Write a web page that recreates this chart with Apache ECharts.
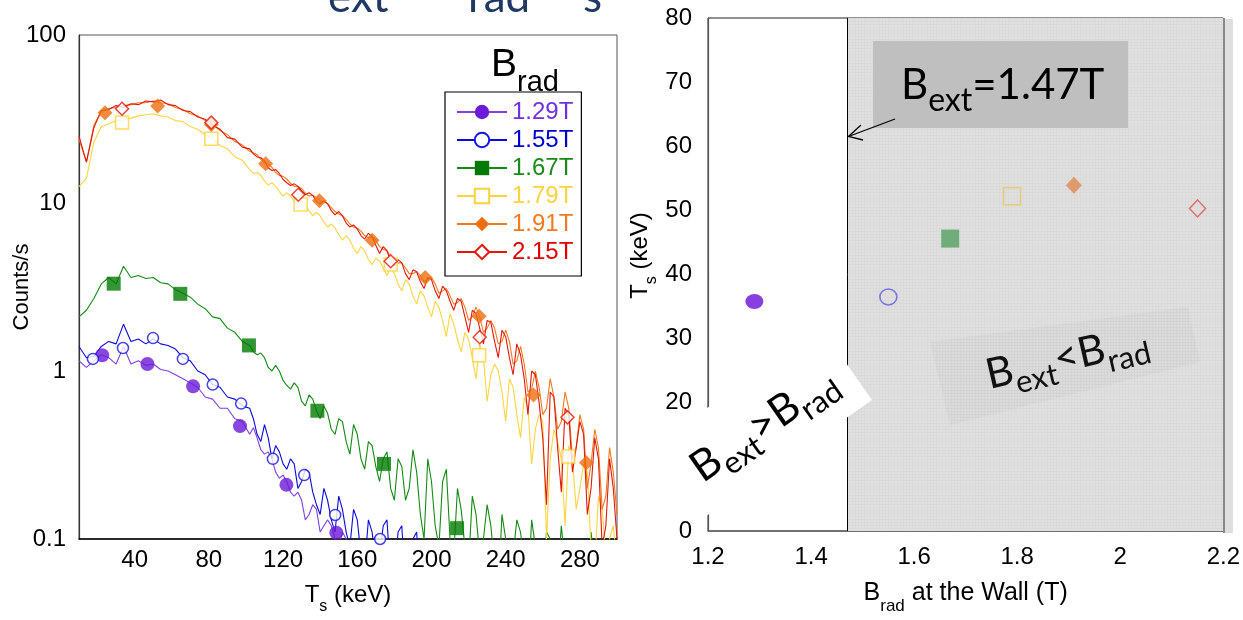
<!DOCTYPE html>
<html>
<head>
<meta charset="utf-8">
<script src="https://cdn.jsdelivr.net/npm/echarts@6/dist/echarts.min.js"></script>
<style>
  html, body { margin: 0; padding: 0; background: #fff; }
  #c { width: 1243px; height: 620px; }
</style>
</head>
<body>
<div id="c"></div>
<script>
// ---- spectra: photon energy grid (keV) ----
const energy = [10,14,18,22,26,30,34,38,42,46,50,54,58,62,66,70,74,78,82,86,90,94,98,102,106,110,114,118,122,126,130,134,138,142,146,150,154,158,162,166,170,174,178,182,186,190,194,198,202,206,210,214,218,222,226,230,234,238,242,246,250,254,258,262,266,270,274,278,282,286,290,294,298];
// extra channels read in the falling part of the spectra
const energyFine = [104,108,112,116,120,124,128,132,136,140,144,148,152,156,160,164,168,172,176,180,184,188,192,196,200,204,208,212,216,220,224,228,232,236,240,244,248,252,256,260,264,268,272,276,280,284,288,292,296,300];

// count rates (counts/s) for each radial field
const counts129 = [1.15,1.05,1.15,1.25,1.2,1.1,1.4,1.1,1.15,1.08, 1.1,1.02,1.0,0.95,0.9,0.85,0.8,0.7,0.68,0.6, 0.6,0.52,0.5,0.42,0.4,0.32,0.3,0.23,0.22,0.18, 0.17,0.14,0.15,0.12,0.12,0.09,0.1,0.07,0.08,0.06];
const counts155 = [1.4,1.2,1.22,1.4,1.5,1.45,1.9,1.5,1.55,1.45, 1.55,1.45,1.42,1.35,1.2,1.15,1.0,0.95,0.83,0.8, 0.7,0.68,0.62,0.6,0.42,0.48,0.3,0.33,0.26,0.28, 0.22,0.25,0.16,0.2,0.13,0.18,0.11,0.15,0.08,0.13, 0.07,0.12,0.06,0.11,0.05,0.1,0.05,0.09,0.05,0.08, 0.05];
const counts167 = [2.1,2.3,2.7,3.3,3.6,3.3,4.2,3.6,3.7,3.55, 3.6,3.35,3.3,3.05,2.9,2.75,2.5,2.35,2.1,2.05, 1.8,1.7,1.5,1.42,1.25,1.2,1.0,1.0,0.82,0.85, 0.66,0.72,0.58,0.62,0.45,0.52,0.38,0.48,0.3,0.38, 0.27,0.3,0.2,0.3,0.17,0.34,0.14,0.3,0.12,0.22, 0.1,0.2,0.09,0.18,0.08,0.16,0.07,0.14,0.06,0.13, 0.07,0.13,0.06,0.11,0.05,0.12,0.06,0.1,0.05,0.11, 0.05,0.08,0.05];
const counts179 = [12.5,14,23,28.5,29.5,31,31,32,33,33.5, 34,33,32.5,31,30.5,28.5,27.5,25.5,24.2,22, 21,18.8,18,15.8,15.2,13.5,13.2,11.7,11.5,10.2, 10.2,9,8.8,7.7,7.5,6.5,6.4,5.4,5.5,4.6, 4.7,4.1,4.1,3.3,3.5,2.8,3.0,2.4,2.6,2.0, 2.2,1.55,1.7,1.2,1.45,0.66,1.1,0.75,0.9,0.55, 0.7,0.28,0.55,0.1,0.45,0.3,0.36,0.15,0.28,0.09, 0.18,0.08,0.12];
const counts191 = [24,17.5,29,35,36.5,37,38,38.5,39.5,39.5, 40.5,39.5,39,37,36,34,33,31,29.5,27, 25.5,23.2,22.2,20.3,19.4,17.4,16.3,14.6,13.9,12.6, 12.2,11,10.8,10.2,9.4,8.6,8.0,7.2,6.8,6.2, 6.0,5.3,4.8,4.4,4.1,3.8,3.7,3.5,3.3,3.0, 2.8,2.55,2.4,2.1,2.1,1.8,1.8,1.5,1.5,1.15, 1.1,0.78,0.8,0.6,0.7,0.5,0.6,0.35,0.45,0.28, 0.35,0.18,0.25];
const counts215 = [25,17.5,28,35.5,36,38,37,39,38.5,40.5, 40,41,38.5,38,35.5,35,32.5,31.5,29,27.5, 24.5,24,21.5,21,18.8,17.8,15.6,15,13.2,13, 11.8,11.5,10.2,10.3,9,8.9,7.6,7.4,6.4,6.6, 5.6,5.5,4.5,4.6,3.8,4.0,3.4,3.6,3.0,3.2, 2.6,2.7,2.1,2.3,1.8,2.0,1.5,1.75,1.2,1.45, 0.9,1.0,0.65,0.16,0.7,0.19,0.55,0.35,0.42,0.2, 0.3,0.12,0.2];

// count rates on the extra channels (same order as energyFine, truncated where the trace leaves the plot)
const fine129 = [0.46,0.34,0.33,0.25,0.24,0.19,0.19,0.13,0.16,0.11, 0.13,0.1,0.11,0.08,0.09,0.06];
const fine155 = [0.52,0.38,0.4,0.36,0.28,0.3,0.2,0.26,0.19,0.14, 0.17,0.11,0.15,0.09,0.13,0.07,0.11,0.08,0.13,0.06, 0.12,0.06,0.11,0.05,0.08,0.05,0.06];
const fine167 = [1.3,1.28,1.05,1.08,0.88,0.78,0.8,0.62,0.68,0.52, 0.56,0.42,0.5,0.32,0.42,0.26,0.36,0.22,0.33,0.17, 0.27,0.2,0.25,0.1,0.22,0.09,0.26,0.08,0.15,0.07, 0.14,0.1,0.12,0.05,0.1,0.08,0.11,0.05,0.09,0.05, 0.1,0.06,0.07,0.05,0.08,0.06,0.07,0.05,0.09,0.05];
const fine179 = [15.0,14.6,12.8,12.6,11.0,11.0,9.7,9.8,8.4,8.4, 7.2,7.1,6.0,6.0,5.0,5.2,4.3,4.5,3.7,3.8, 3.0,3.3,2.5,2.8,2.1,2.4,1.6,1.9,1.3,1.55, 0.9,1.2,0.95,1.0,0.5,0.8,0.4,0.6,0.45,0.5, 0.3,0.38,0.12,0.3,0.2,0.25,0.07,0.15,0.1,0.07];
const fine191 = [19.9,18.2,17.0,15.2,14.4,13.1,12.5,11.4,11.1,10.3, 9.9,8.9,8.4,7.5,7.1,6.4,6.3,5.5,5.2,4.5, 4.4,3.8,3.9,3.4,3.6,2.9,3.1,2.5,2.7,2.0, 2.4,1.7,2.0,1.45,1.75,1.1,1.4,0.75,1.0,0.55, 0.9,0.45,0.75,0.3,0.55,0.2,0.45,0.15,0.35,0.14];
const fine215 = [19.6,18.6,16.2,15.8,13.8,12.7,12.6,11.2,11.1,9.9, 9.9,8.5,8.4,7.2,7.0,6.1,6.3,5.0,5.2,4.2, 4.4,3.5,3.9,3.1,3.5,2.7,3.0,2.3,2.6,1.7, 2.2,1.45,1.95,1.2,1.6,0.95,1.25,0.55,0.95,0.4, 0.75,0.35,0.6,0.25,0.5,0.14,0.4,0.09,0.3,0.1];

// marker points placed along each spectrum (energy keV, counts/s)
const mark129E = [22.5,46.9,71.5,96.8,121.8,148.7];
const mark129V = [1.24,1.1,0.81,0.47,0.21,0.109];
const mark155E = [17.5,33.7,49.9,66,82.1,97.4,114.5,131.4,148.1,172.3];
const mark155V = [1.18,1.37,1.57,1.18,0.83,0.64,0.30,0.24,0.139,0.1];
const mark167E = [28.7,64.6,101.6,138.5,174.4,213.8];
const mark167V = [3.31,2.88,1.42,0.58,0.28,0.116];
const mark179E = [33.2,81.3,129.5,178,225.7,273.7];
const mark179V = [30.1,24.1,9.8,4.3,1.24,0.31];
const mark191E = [24,52.4,81.3,110.6,139.6,168,196.6,225.7,255,283.5];
const mark191V = [34.5,37.8,29.3,17.1,10.3,6.0,3.6,2.12,0.72,0.284];
const mark215E = [33.2,81.3,128.2,178,226,273.3];
const mark215V = [36.4,30.1,11.2,4.5,1.59,0.53];

const fieldNames = ['1.29T','1.55T','1.67T','1.79T','1.91T','2.15T'];

// ---- slope temperature vs radial field at the wall ----
const bRad = [1.29, 1.55, 1.67, 1.79, 1.91, 2.15];
const tsKeV = [35.8, 36.5, 45.6, 52.2, 53.9, 50.3];
const bExt = 1.47;

// axis ticks
const energyTicks = [40, 80, 120, 160, 200, 240, 280];

const spectra = [
  { values: counts129, fine: fine129, markE: mark129E, markV: mark129V },
  { values: counts155, fine: fine155, markE: mark155E, markV: mark155V },
  { values: counts167, fine: fine167, markE: mark167E, markV: mark167V },
  { values: counts179, fine: fine179, markE: mark179E, markV: mark179V },
  { values: counts191, fine: fine191, markE: mark191E, markV: mark191V },
  { values: counts215, fine: fine215, markE: mark215E, markV: mark215V }
];

const looks = [
  { line: '#8040E2', mark: '#6A1AD8', text: '#7030E0', symbol: 'circle',  size: 14, filled: true  },
  { line: '#0A0ADC', mark: '#1414E0', text: '#0000CC', symbol: 'circle',  size: 11, filled: false },
  { line: '#148A14', mark: '#007A00', text: '#1A8A1A', symbol: 'rect',    size: 14, filled: true  },
  { line: '#FFD43F', mark: '#FFD23A', text: '#FFD23F', symbol: 'rect',    size: 13, filled: false },
  { line: '#F07A1E', mark: '#EE6E10', text: '#F07A1E', symbol: 'diamond', size: 15, filled: true  },
  { line: '#E2180A', mark: '#E2180A', text: '#E00000', symbol: 'diamond', size: 13, filled: false }
];

const pointLooks = [
  { symbol: 'circle',  size: [18, 15], color: '#6A0FD8', filled: true  },
  { symbol: 'circle',  size: [17, 16], color: '#5A5AE2', filled: false },
  { symbol: 'rect',    size: [18, 18], color: '#55A060', filled: true  },
  { symbol: 'rect',    size: [17, 17], color: '#E8C860', filled: false },
  { symbol: 'diamond', size: [16, 17], color: '#E08850', filled: true  },
  { symbol: 'diamond', size: [16, 17], color: '#E05555', filled: false }
];

const ARIAL = 'Liberation Sans, Arial, sans-serif';
const SLIDE = 'Lato, sans-serif';

function hatch(bg, fg, step) {
  const c = document.createElement('canvas');
  c.width = c.height = step;
  const g = c.getContext('2d');
  g.fillStyle = bg; g.fillRect(0, 0, step, step);
  g.fillStyle = fg; g.fillRect(0, 0, step, 1); g.fillRect(0, 0, 1, step);
  return c;
}

const emptyName = s => 'empty' + s.charAt(0).toUpperCase() + s.slice(1);

// merge the coarse and fine channels into one energy-ordered trace
function trace(sp) {
  const pts = sp.values.map((v, k) => [energy[k], v])
    .concat(sp.fine.map((v, k) => [energyFine[k], v]));
  return pts.sort((a, b) => a[0] - b[0]);
}

const series = [];
spectra.forEach((sp, i) => {
  const lk = looks[i];
  series.push({
    type: 'line', name: fieldNames[i], xAxisIndex: 0, yAxisIndex: 0,
    data: trace(sp),
    showSymbol: false, symbol: lk.filled ? lk.symbol : emptyName(lk.symbol),
    lineStyle: { color: lk.line, width: 1.1 },
    itemStyle: { color: lk.mark },
    z: 2 + i * 0.01, clip: true, silent: true
  });
});
spectra.forEach((sp, i) => {
  const lk = looks[i];
  series.push({
    type: 'scatter', name: fieldNames[i] + ' markers', xAxisIndex: 0, yAxisIndex: 0,
    data: sp.markE.map((e, k) => [e, sp.markV[k]]),
    symbol: lk.symbol, symbolSize: lk.size,
    itemStyle: lk.filled ? { color: lk.mark } : { color: '#fff', borderColor: lk.mark, borderWidth: 1.5 },
    z: 4, silent: true
  });
});
series.push({
  type: 'scatter', name: 'Ts', xAxisIndex: 1, yAxisIndex: 1,
  data: bRad.map((b, i) => {
    const p = pointLooks[i];
    return {
      value: [b, tsKeV[i]], symbol: p.symbol, symbolSize: p.size,
      itemStyle: p.filled ? { color: p.color } : { color: 'transparent', borderColor: p.color, borderWidth: 1.5 }
    };
  }),
  z: 6, silent: true,
  markArea: {
    silent: true,
    itemStyle: { color: { image: hatch('#e0e0e0', '#dadada', 3), repeat: 'repeat' } },
    data: [[{ xAxis: bExt, yAxis: 0 }, { xAxis: 2.2, yAxis: 80 }]]
  },
  markLine: {
    silent: true, symbol: ['none', 'none'], label: { show: false },
    lineStyle: { color: '#000', width: 1, type: 'solid' },
    data: [{ xAxis: bExt }]
  }
});

const subRich = (main, sub, pad) => ({
  m: { fontSize: main, fontFamily: ARIAL, color: '#000', lineHeight: main + 2, verticalAlign: 'top' },
  s: { fontSize: sub, fontFamily: ARIAL, color: '#000', verticalAlign: 'top', padding: [pad, 0, 0, 0] }
});

const tickLabel = { fontSize: 24, fontFamily: ARIAL, color: '#000' };

const option = {
  animation: false,
  backgroundColor: '#fff',
  grid: [
    { left: 79, top: 35, width: 538, height: 505, show: true, borderColor: '#555', borderWidth: 1 },
    { left: 708, top: 18, width: 516, height: 515, show: true, borderColor: '#222', borderWidth: 1 }
  ],
  xAxis: [
    {
      type: 'value', gridIndex: 0, min: 10, max: 300, interval: 10,
      axisLine: { lineStyle: { color: '#000', width: 1.5 } },
      axisTick: { show: false }, splitLine: { show: false },
      axisLabel: Object.assign({ margin: 9, interval: 0, formatter: v => energyTicks.includes(v) ? String(v) : '' }, tickLabel),
      name: '{m|T}{s|s}{m| (keV)}', nameLocation: 'middle', nameGap: 44, nameMoveOverlap: false,
      nameTextStyle: { rich: subRich(24, 16, 16) }
    },
    {
      type: 'value', gridIndex: 1, min: 1.2, max: 2.2, interval: 0.2,
      axisLine: { lineStyle: { color: '#666', width: 1.5 } },
      axisTick: { show: false }, splitLine: { show: false },
      axisLabel: Object.assign({ margin: 14, formatter: v => String(Math.round(v * 10) / 10) }, tickLabel),
      name: '{m|B}{s|rad}{m| at the Wall (T)}', nameLocation: 'middle', nameGap: 50, nameMoveOverlap: false,
      nameTextStyle: { rich: subRich(25, 17, 17) }
    }
  ],
  yAxis: [
    {
      type: 'log', logBase: 10, gridIndex: 0, min: 0.1, max: 100,
      axisLine: { show: true, lineStyle: { color: '#333', width: 1.2 } },
      axisTick: { show: false }, splitLine: { show: false }, minorSplitLine: { show: false },
      axisLabel: Object.assign({ margin: 13, formatter: v => String(v) }, tickLabel),
      name: 'Counts/s', nameLocation: 'middle', nameGap: 46, nameMoveOverlap: false,
      nameTextStyle: { fontSize: 22, fontFamily: ARIAL, color: '#000' }
    },
    {
      type: 'value', gridIndex: 1, min: 0, max: 80, interval: 10,
      axisLine: { show: true, lineStyle: { color: '#555', width: 1.2 } },
      axisTick: { show: false }, splitLine: { show: false },
      axisLabel: Object.assign({ margin: 16 }, tickLabel),
      name: '{m|T}{s|s}{m| (keV)}', nameLocation: 'middle', nameGap: 48, nameMoveOverlap: false,
      nameTextStyle: { padding: [0, 0, 0, 38], rich: subRich(24, 16, 16) }
    }
  ],
  legend: {
    left: 445, top: 92, orient: 'vertical', selectedMode: false,
    itemWidth: 50, itemHeight: 18, itemGap: 4,
    padding: [8, 8, 12, 11],
    borderColor: '#000', borderWidth: 1.2, backgroundColor: '#fff',
    textStyle: { fontSize: 24, fontFamily: ARIAL },
    data: fieldNames.map((n, i) => ({ name: n, textStyle: { color: looks[i].text } }))
  },
  series: series,
  graphic: [
    // subscripts of the slide title above the charts
    { type: 'text', z: 50, style: { text: 'ext', x: 328, y: 20, font: '44px ' + SLIDE, fill: '#1F3864', verticalAlign: 'bottom' } },
    { type: 'text', z: 50, style: { text: 'rad', x: 468, y: 20, font: '44px ' + SLIDE, fill: '#1F3864', verticalAlign: 'bottom' } },
    { type: 'text', z: 50, style: { text: 's',   x: 583, y: 20, font: '44px ' + SLIDE, fill: '#1F3864', verticalAlign: 'bottom' } },
    // legend heading
    { type: 'text', z: 60, style: {
        text: '{m|B}{s|rad}', x: 491, y: 46, verticalAlign: 'top',
        rich: {
          m: { fontSize: 39, fontFamily: ARIAL, fill: '#000', lineHeight: 42, verticalAlign: 'top' },
          s: { fontSize: 29, fontFamily: ARIAL, fill: '#000', verticalAlign: 'top', padding: [22, 0, 0, 0] }
        } } },
    // shaded strip continuing past the right frame
    { type: 'rect', z: 1, shape: { x: 1224, y: 19, width: 9, height: 514 }, style: { fill: '#dfdfdf' } },
    { type: 'line', z: 60, shape: { x1: 1224, y1: 18, x2: 1224, y2: 533 }, style: { stroke: '#888', lineWidth: 2 } },
    // field annotation
    { type: 'rect', z: 40, shape: { x: 873, y: 41, width: 255, height: 87 }, style: { fill: '#bfbfbf' } },
    { type: 'text', z: 41, style: {
        text: '{m|B}{s|ext}{m|=1.47T}', x: 901, y: 64, verticalAlign: 'top',
        rich: {
          m: { fontSize: 42, fontFamily: SLIDE, fill: '#000', lineHeight: 42, verticalAlign: 'top' },
          s: { fontSize: 32, fontFamily: SLIDE, fill: '#000', verticalAlign: 'top', padding: [21, 0, 0, 0] }
        } } },
    { type: 'polyline', z: 41, shape: { points: [[895, 119], [848.5, 136.5]] }, style: { stroke: '#000', lineWidth: 1.3, fill: null } },
    { type: 'polyline', z: 41, shape: { points: [[861, 125], [848.5, 136.5], [863, 140]] }, style: { stroke: '#000', lineWidth: 1.3, fill: null } },
    // region label on the high-field side
    { type: 'polygon', z: 20, shape: { points: [[930, 342], [1188, 307], [1200, 362], [950, 425]] },
      style: { fill: { image: hatch('#dcdcdc', '#d3d3d3', 3), repeat: 'repeat' } } },
    { type: 'group', z: 21, x: 1068, y: 362, rotation: 13 * Math.PI / 180, children: [
      { type: 'text', z: 21, style: {
          text: '{m|B}{s|ext}{m|<B}{s|rad}', x: 0, y: -26, align: 'center', verticalAlign: 'top',
          rich: {
            m: { fontSize: 42, fontFamily: SLIDE, fill: '#111', lineHeight: 42, verticalAlign: 'top' },
            s: { fontSize: 31, fontFamily: SLIDE, fill: '#111', verticalAlign: 'top', padding: [20, 0, 0, 0] }
          } } }
    ] },
    // region label on the low-field side, on a white tilted card
    { type: 'group', z: 80, x: 872, y: 400, rotation: 35 * Math.PI / 180, children: [
      { type: 'rect', z: 80, shape: { x: -215, y: -88, width: 215, height: 88 }, style: { fill: '#fff' } },
      { type: 'text', z: 81, style: {
          text: '{m|B}{s|ext}{m|>B}{s|rad}', x: -103, y: -64, align: 'center', verticalAlign: 'top',
          rich: {
            m: { fontSize: 43, fontFamily: SLIDE, fill: '#000', lineHeight: 42, verticalAlign: 'top' },
            s: { fontSize: 31, fontFamily: SLIDE, fill: '#000', verticalAlign: 'top', padding: [20, 0, 0, 0] }
          } } }
    ] }
  ]
};

const chart = echarts.init(document.getElementById('c'));
chart.setOption(option);
</script>
</body>
</html>
